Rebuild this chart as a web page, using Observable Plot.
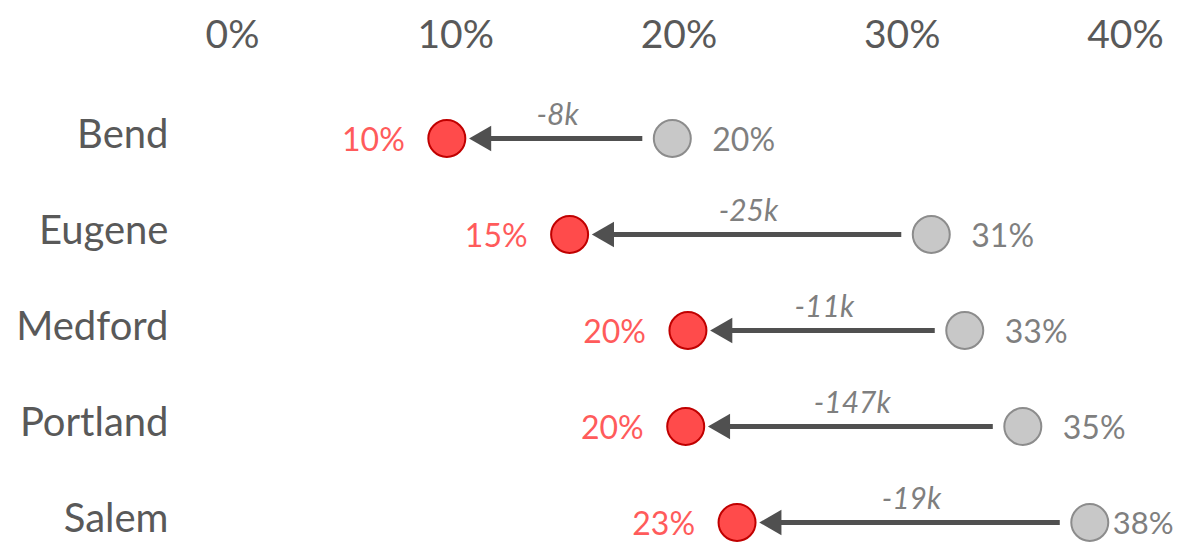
<!DOCTYPE html>
<html>
<head>
<meta charset="utf-8">
<script src="https://cdn.jsdelivr.net/npm/d3@7"></script>
<script src="https://cdn.jsdelivr.net/npm/@observablehq/plot@0.6"></script>
<style>
  html, body { margin: 0; padding: 0; background: #fff; }
  #chart { width: 1184px; height: 543px; }
</style>
</head>
<body>
<div id="chart"></div>
<script>
const cities = ["Bend", "Eugene", "Medford", "Portland", "Salem"];
const before = [19.7, 31.3, 32.8, 35.4, 38.4];
const after = [9.6, 15.1, 20.4, 20.3, 22.6];
const deltaK = [-8, -25, -11, -147, -19];
const xTicks = [0, 10, 20, 30, 40];

const rows = cities.map((c, i) => ({
  city: c, before: before[i], after: after[i], delta: deltaK[i],
  mid: (before[i] + after[i]) / 2
}));
const lastCity = cities[cities.length - 1];

const FONT = "Lato, 'Open Sans', sans-serif";
const R = 18.5;

const chart = Plot.plot({
  width: 1184,
  height: 543,
  marginLeft: 232,
  marginRight: 59,
  marginTop: 60,
  marginBottom: 21,
  style: { fontFamily: FONT, background: "#fff" },
  x: { domain: [0, 40], ticks: xTicks },
  y: { type: "point", domain: cities, range: [137, 522], padding: 0 },
  marks: [
    Plot.axisX({
      anchor: "top", ticks: xTicks, tickSize: 0, tickPadding: 13,
      tickFormat: d => d + "%", fontSize: 39, fill: "#595959", label: null
    }),
    Plot.axisY({
      tickSize: 0, tickPadding: 64, fontSize: 40, dy: -3, fill: "#595959", label: null
    }),
    Plot.arrow(rows, {
      x1: "before", x2: "after", y: "city",
      stroke: "#505050", strokeWidth: 5, headLength: 0,
      insetStart: 30, insetEnd: 40, strokeLinecap: "butt"
    }),
    Plot.dot(rows, {
      x: "after", y: "city", symbol: "triangle", rotate: -90,
      r: 9.5, fill: "#505050", stroke: "none", dx: 37
    }),
    Plot.dot(rows, {
      x: "before", y: "city", r: R, fill: "#C8C8C8", stroke: "#8C8C8C", strokeWidth: 2
    }),
    Plot.dot(rows, {
      x: "after", y: "city", r: R, fill: "#FF4B4B", stroke: "#C00000", strokeWidth: 2
    }),
    Plot.text(rows, {
      x: "after", y: "city", text: d => Math.round(d.after) + "%",
      textAnchor: "end", dx: -42, dy: 2, fontSize: 32, fill: "#FF5B5B"
    }),
    Plot.text(rows, {
      filter: d => d.city !== lastCity,
      x: "before", y: "city", text: d => Math.round(d.before) + "%",
      textAnchor: "start", dx: 40, dy: 2, fontSize: 32, fill: "#7F7F7F"
    }),
    Plot.text(rows, {
      filter: d => d.city === lastCity,
      x: "before", y: "city", text: d => Math.round(d.before) + "%",
      textAnchor: "start", dx: 23, dy: 2, fontSize: 31, fill: "#7F7F7F"
    }),
    Plot.text(rows, {
      x: "mid", y: "city", text: d => d.delta + "k",
      textAnchor: "middle", dx: -2, dy: -23, fontSize: 30, fontStyle: "italic", fill: "#7F7F7F"
    })
  ]
});
document.getElementById("chart").appendChild(chart);
</script>
</body>
</html>
